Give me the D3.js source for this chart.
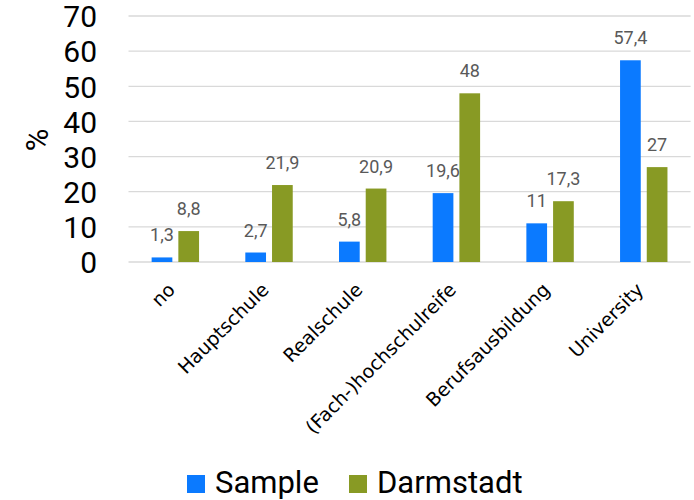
<!DOCTYPE html>
<html><head><meta charset="utf-8">
<script src="https://cdn.jsdelivr.net/npm/d3@7"></script>
<style>body{margin:0;background:#fff}svg{display:block}</style>
</head><body>
<svg id="c" width="694" height="500"></svg>
<script>
const categories = ["no","Hauptschule","Realschule","(Fach-)hochschulreife","Berufsausbildung","University"];
const sample = [1.3, 2.7, 5.8, 19.6, 11, 57.4];
const darmstadt = [8.8, 21.9, 20.9, 48, 17.3, 27];
const seriesNames = ["Sample","Darmstadt"];
const colors = ["#0B7AFF","#889A24"];
const yTicks = [0,10,20,30,40,50,60,70];

(function(){
const svg = d3.select("#c");
const mLeft = 128.5, mRight = 690.6, mTop = 16, mBottom = 262;
const x = d3.scaleBand().domain(categories).range([mLeft,mRight]).paddingInner(0).paddingOuter(0);
const y = d3.scaleLinear().domain([0,70]).range([mBottom,mTop]);
const inner = d3.scaleBand().domain(seriesNames).range([0,x.bandwidth()]).paddingInner(0.225).paddingOuter(0.866);

// gridlines
svg.append("g").selectAll("line").data(yTicks).join("line")
  .attr("x1",mLeft).attr("x2",mRight)
  .attr("y1",d=>y(d)).attr("y2",d=>y(d))
  .attr("stroke","#d9d9d9").attr("stroke-width",1.3);

// y axis labels
const yAxis = d3.axisLeft(y).tickValues(yTicks).tickSize(0).tickPadding(0);
const gy = svg.append("g").attr("transform","translate(97,0)").call(yAxis);
gy.select(".domain").remove();
gy.selectAll("text").attr("font-family","Roboto").attr("font-size",30).attr("fill","#000").attr("dy","0.36em");

// % label
svg.append("text").attr("transform","translate(48,140) rotate(-90)")
  .attr("text-anchor","middle").attr("font-family","Roboto").attr("font-size",31).text("%");

const data = categories.map((c,i)=>({c, vals:[sample[i], darmstadt[i]]}));
const groups = svg.append("g").selectAll("g").data(data).join("g")
  .attr("transform",d=>`translate(${x(d.c)},0)`);
groups.selectAll("rect").data(d=>d.vals.map((v,j)=>({v,s:seriesNames[j],j}))).join("rect")
  .attr("x",d=>inner(d.s)).attr("width",inner.bandwidth())
  .attr("y",d=>y(d.v)).attr("height",d=>y(0)-y(d.v))
  .attr("fill",d=>colors[d.j]);
groups.selectAll("text.v").data(d=>d.vals.map((v,j)=>({v,s:seriesNames[j],j}))).join("text")
  .attr("class","v")
  .attr("x",d=>inner(d.s)+inner.bandwidth()/2).attr("y",d=>y(d.v)-16)
  .attr("text-anchor","middle").attr("font-family","Roboto").attr("font-size",18).attr("fill","#595959")
  .text(d=>String(d.v).replace(".",","));

// x labels
svg.append("g").selectAll("text").data(categories).join("text")
  .attr("transform",d=>`translate(${x(d)+x.bandwidth()/2+1},${291}) rotate(-45)`)
  .attr("text-anchor","end").attr("font-family","DejaVu Sans").attr("font-size",19)
  .attr("fill","#000").text(d=>d);

// legend
const legend = svg.append("g");
const lx = [187, 349];
seriesNames.forEach((s,i)=>{
  legend.append("rect").attr("x",lx[i]).attr("y",475).attr("width",18).attr("height",18).attr("fill",colors[i]);
  legend.append("text").attr("x",lx[i]+28).attr("y",493).attr("font-family","Roboto").attr("font-size",31).attr("fill","#000").text(s);
});
})();
</script>
</body></html>
